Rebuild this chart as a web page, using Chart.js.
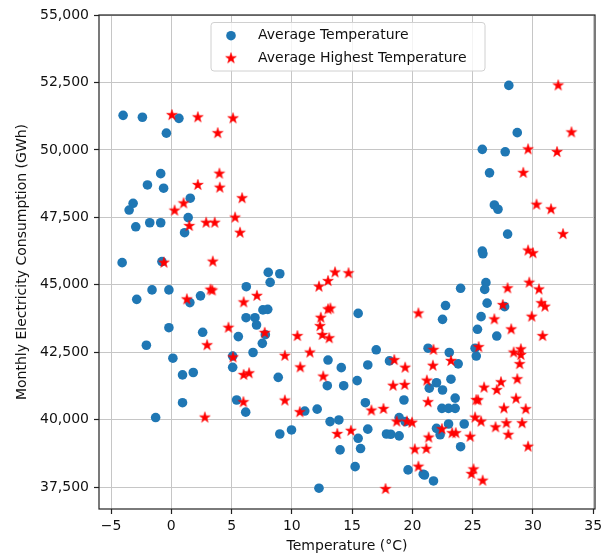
<!DOCTYPE html>
<html><head><meta charset="utf-8">
<script src="https://cdn.jsdelivr.net/npm/chart.js@4.4.1/dist/chart.umd.min.js"></script>
<style>html,body{margin:0;padding:0;background:#fff}</style>
</head><body>
<canvas id="c" width="601" height="558"></canvas>
<script>
// ---- DATA ----
const seriesLabels = ['Average Temperature', 'Average Highest Temperature'];
const xTitle = 'Temperature (°C)';
const yTitle = 'Monthly Electricity Consumption (GWh)';
const xTicks = [-5, 0, 5, 10, 15, 20, 25, 30, 35];
const yTicks = [37500, 40000, 42500, 45000, 47500, 50000, 52500, 55000];

const avgTempX = [-4.0,-2.4,0.63,-0.41,-0.88,28.0,28.7,25.8,27.7,26.4,
 -1.98,-0.64,-3.17,-3.5,1.57,-2.95,-1.79,-0.88,1.4,1.1,
 -4.08,-0.78,-1.6,-2.87,-0.2,1.54,2.42,6.22,-0.2,2.6,
 6.2,6.94,7.07,5.56,-2.07,8.04,9.0,8.2,15.5,7.6,
 8.0,7.8,7.55,26.8,27.1,27.9,25.8,25.85,26.1,26.0,
 24.0,26.2,22.75,27.65,22.5,25.7,25.4,27.0,0.13,0.93,
 1.82,0.93,-1.3,5.09,5.09,5.42,6.17,6.78,17.0,13.0,
 14.1,16.3,18.1,8.87,12.94,14.3,15.42,19.3,16.1,11.07,
 12.1,13.17,13.9,9.0,9.97,16.3,15.5,15.7,14.0,17.85,
 18.2,18.9,15.25,12.25,19.64,20.9,18.9,19.4,21.3,23.06,
 23.8,25.2,25.3,22.0,21.4,22.5,23.2,23.55,22.45,23.0,
 23.55,22.0,22.3,23.0,24.3,24.0,21.0,21.75];
const avgTempY = [51280,51210,51170,50620,49120,52390,50640,50020,49930,49150,
 48700,48580,48020,47770,48210,47150,47300,47300,47490,46930,
 45820,45860,44810,44460,44810,44340,44590,44930,43410,43240,
 43780,43780,43510,43080,42760,45460,45410,45090,43940,44070,
 44090,43150,42830,47960,47800,46880,46250,46150,45080,44830,
 44870,44320,44230,44190,43720,43820,43350,43100,42280,41660,
 41750,40630,40080,42360,41940,40730,40280,42490,42590,42210,
 41930,42030,42180,41570,41260,41260,41450,40730,40630,40320,
 40390,39930,39990,39470,39620,39650,39310,38930,38880,39470,
 39460,39400,38260,37460,38140,37980,40080,39930,42650,42490,
 42070,42650,42360,41370,41170,41100,41500,40800,40420,40420,
 40420,39680,39440,39840,39840,39000,37950,37730];

const highTempX = [0.05,2.2,5.12,3.85,3.99,32.1,33.2,29.6,32.0,29.2,
 2.2,4.02,5.87,1.02,0.27,1.49,2.89,3.6,5.29,5.7,
 -0.61,3.44,3.25,3.4,1.29,6.0,7.1,4.74,2.97,7.75,
 13.58,14.7,13.0,12.25,13.0,13.2,12.4,12.34,12.53,13.1,
 10.46,20.5,30.3,31.5,32.5,29.6,30.0,29.7,27.9,30.5,
 27.5,30.7,31.0,26.8,29.9,28.2,30.8,5.12,6.0,6.45,
 5.98,2.78,9.42,11.5,10.7,12.6,18.5,19.4,18.4,19.36,
 9.42,10.66,16.6,17.6,18.7,19.55,19.97,13.77,14.9,20.2,
 20.5,17.77,21.75,25.5,28.4,29.0,29.0,28.9,21.7,23.2,
 21.2,28.7,27.35,25.95,27.0,21.3,25.3,25.45,28.6,27.6,
 29.4,25.2,25.7,27.8,29.1,26.9,22.45,23.3,23.6,24.8,
 27.96,21.35,21.16,29.6,25.07,24.9,25.83];
const highTempY = [51290,51210,51170,50620,49120,52390,50650,50020,49920,49150,
 48700,48600,48210,48020,47750,47180,47300,47300,47490,46930,
 45820,45860,44820,44790,44460,44350,44590,43410,42760,43220,
 45460,45430,45140,44930,44090,44120,43780,43470,43140,43020,
 43100,43940,47970,47800,46880,46270,46170,45080,44870,44830,
 44250,44320,44190,43720,43820,43350,43100,42310,41660,41720,
 40650,40080,42370,42490,41940,41600,42210,41930,41260,41290,
 40710,40280,40340,40400,39930,39930,39890,39470,39590,38900,
 38260,37430,42590,42690,42490,42610,42400,42060,42000,42180,
 41450,41500,41390,41190,41100,40650,40730,40720,40780,40420,
 40390,40080,39930,39870,39870,39720,39650,39500,39500,39370,
 39440,39340,38920,39000,38160,37990,37740];

// ---- STYLE ----
const BLUE = '#1f77b4';
const RED = '#ff0000';
const FONT = 'DejaVu Sans';

function makeStar(R, color) {
  const size = Math.ceil(R * 2 + 4);
  const cv = document.createElement('canvas');
  cv.width = size; cv.height = size;
  const g = cv.getContext('2d');
  const c = size / 2, r = R * 0.381966;
  g.beginPath();
  for (let i = 0; i < 10; i++) {
    const ang = -Math.PI / 2 + i * Math.PI / 5;
    const rr = i % 2 === 0 ? R : r;
    const px = c + rr * Math.cos(ang), py = c + rr * Math.sin(ang);
    if (i === 0) g.moveTo(px, py); else g.lineTo(px, py);
  }
  g.closePath();
  g.fillStyle = color; g.fill();
  g.lineWidth = 0.6; g.strokeStyle = color; g.stroke();
  return cv;
}
const star = makeStar(5.6, RED);

const toPts = (xs, ys) => xs.map((x, i) => ({x: x, y: ys[i]}));

const framePlugin = {
  id: 'frame',
  afterDatasetsDraw(chart) {
    const {ctx, chartArea: a} = chart;
    ctx.save();
    ctx.strokeStyle = '#222';
    ctx.lineWidth = 1.2;
    ctx.strokeRect(a.left, a.top, a.right - a.left, a.bottom - a.top);
    ctx.restore();
  }
};

const legendPlugin = {
  id: 'mplLegend',
  afterDraw(chart) {
    const {ctx, chartArea: a} = chart;
    const x0 = a.left + 112, y0 = a.top + 7.5, w = 274, h = 48.5, r = 3;
    ctx.save();
    ctx.beginPath();
    ctx.moveTo(x0 + r, y0);
    ctx.lineTo(x0 + w - r, y0); ctx.quadraticCurveTo(x0 + w, y0, x0 + w, y0 + r);
    ctx.lineTo(x0 + w, y0 + h - r); ctx.quadraticCurveTo(x0 + w, y0 + h, x0 + w - r, y0 + h);
    ctx.lineTo(x0 + r, y0 + h); ctx.quadraticCurveTo(x0, y0 + h, x0, y0 + h - r);
    ctx.lineTo(x0, y0 + r); ctx.quadraticCurveTo(x0, y0, x0 + r, y0);
    ctx.closePath();
    ctx.fillStyle = 'rgba(255,255,255,0.8)';
    ctx.fill();
    ctx.strokeStyle = '#d0d0d0';
    ctx.lineWidth = 1;
    ctx.stroke();
    const mx = x0 + 20, r1 = y0 + 13.2, r2 = y0 + 35.8;
    ctx.beginPath();
    ctx.arc(mx, r1, 4.8, 0, Math.PI * 2);
    ctx.fillStyle = BLUE; ctx.fill();
    ctx.drawImage(star, mx - star.width / 2, r2 - star.height / 2);
    ctx.fillStyle = '#111';
    ctx.font = '14px "' + FONT + '"';
    ctx.textAlign = 'left';
    ctx.textBaseline = 'middle';
    ctx.fillText(seriesLabels[0], x0 + 47, r1);
    ctx.fillText(seriesLabels[1], x0 + 47, r2);
    ctx.restore();
  }
};

Chart.defaults.font.family = FONT;
Chart.defaults.font.size = 14;
Chart.defaults.color = '#111';

new Chart(document.getElementById('c'), {
  type: 'scatter',
  data: {
    datasets: [
      {
        label: seriesLabels[0],
        data: toPts(avgTempX, avgTempY),
        pointStyle: 'circle',
        pointRadius: 4.8,
        pointHoverRadius: 4.8,
        backgroundColor: BLUE,
        borderColor: BLUE,
        borderWidth: 0,
        order: 1
      },
      {
        label: seriesLabels[1],
        data: toPts(highTempX, highTempY),
        pointStyle: star,
        pointRadius: 5,
        pointHoverRadius: 5,
        backgroundColor: RED,
        borderColor: RED,
        order: 0
      }
    ]
  },
  options: {
    responsive: false,
    animation: false,
    events: [],
    devicePixelRatio: 1,
    layout: {padding: {top: 15, right: 5, bottom: 0, left: 0}},
    plugins: {legend: {display: false}, tooltip: {enabled: false}},
    scales: {
      x: {
        type: 'linear',
        min: -6.0,
        max: 35.15,
        afterBuildTicks: ax => { ax.ticks = xTicks.map(v => ({value: v})); },
        afterFit: s => { s.height = 49; s.paddingLeft = 0; s.paddingRight = 0; },
        ticks: {
          padding: 4,
          color: '#111',
          maxRotation: 0,
          autoSkip: false,
          callback: v => String(v).replace('-', '\u2212')
        },
        grid: {color: '#c6c6c6', lineWidth: 1, tickColor: '#222', tickLength: 5, tickWidth: 1.2},
        border: {display: false},
        title: {display: true, text: xTitle, color: '#111', font: {size: 14}, padding: {top: 0, bottom: 3}}
      },
      y: {
        type: 'linear',
        min: 36690,
        max: 55000,
        afterBuildTicks: ax => { ax.ticks = yTicks.map(v => ({value: v})); },
        afterFit: s => { s.width = 99; s.paddingTop = 0; s.paddingBottom = 0; },
        ticks: {
          padding: 5,
          color: '#111',
          autoSkip: false,
          callback: v => Number(v).toLocaleString('en-US')
        },
        grid: {color: '#c6c6c6', lineWidth: 1, tickColor: '#222', tickLength: 5, tickWidth: 1.2},
        border: {display: false},
        title: {display: true, text: yTitle, color: '#111', font: {size: 14}, padding: {top: 14, bottom: 0}}
      }
    }
  },
  plugins: [framePlugin, legendPlugin]
});
</script>
</body></html>
